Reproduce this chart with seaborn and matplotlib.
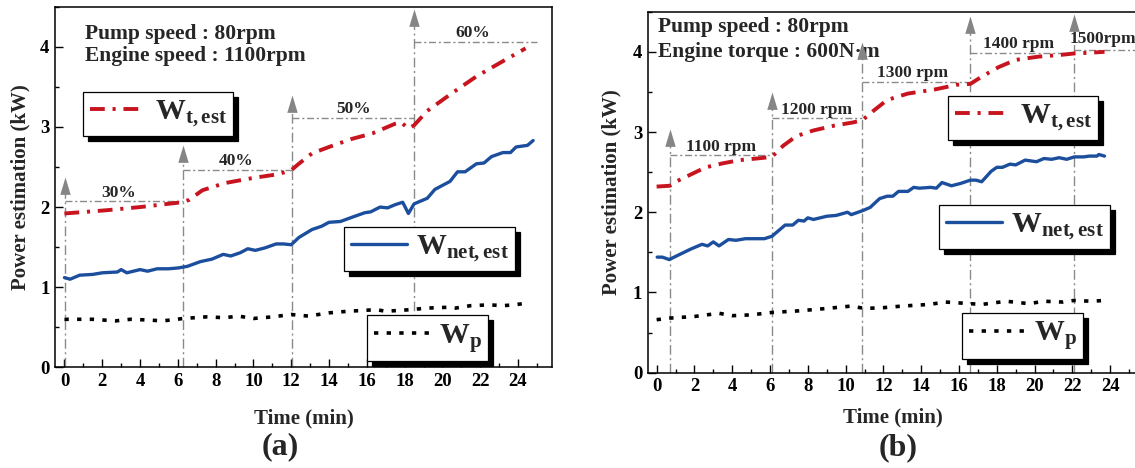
import matplotlib
matplotlib.use('Agg')
import matplotlib.pyplot as plt
import seaborn as sns
from matplotlib.legend import Legend
from matplotlib.ticker import MultipleLocator

# ---------------- data : panel (a) ----------------
a_wt_time = [0, 2.2, 4.0, 6.2, 6.6, 7.3, 8.5, 9.9, 11.3, 12.0, 12.4, 13.1, 14.0, 15.2,
             16.3, 17.5, 17.8, 18.2, 18.5, 19.2, 20.5, 21.8, 23.2, 24.4]
a_wt = [1.92, 1.96, 2.00, 2.06, 2.09, 2.21, 2.30, 2.36, 2.41, 2.46, 2.54, 2.67, 2.75, 2.85,
        2.92, 3.04, 3.06, 2.98, 3.02, 3.20, 3.42, 3.63, 3.82, 3.98]
a_wnet_time = [0, 0.3, 0.8, 1.5, 2.0, 2.8, 3.0, 3.3, 4.0, 4.4, 4.9, 5.5, 6.0, 6.5, 7.2,
               7.8, 8.4, 8.8, 9.3, 9.7, 10.1, 10.6, 11.2, 11.6, 12.0, 12.4, 13.1, 13.6,
               14.0, 14.6, 15.3, 15.9, 16.2, 16.7, 17.1, 17.5, 17.9, 18.2, 18.5, 19.2,
               19.6, 20.4, 20.8, 21.2, 21.8, 22.2, 22.6, 23.2, 23.6, 23.9, 24.5, 24.8]
a_wnet = [1.12, 1.10, 1.15, 1.16, 1.18, 1.19, 1.22, 1.18, 1.22, 1.20, 1.23, 1.23, 1.24,
          1.26, 1.32, 1.35, 1.41, 1.39, 1.43, 1.48, 1.46, 1.49, 1.54, 1.54, 1.53, 1.62,
          1.72, 1.76, 1.81, 1.82, 1.88, 1.93, 1.94, 2.00, 1.99, 2.03, 2.06, 1.92, 2.04,
          2.11, 2.22, 2.32, 2.44, 2.44, 2.54, 2.55, 2.63, 2.68, 2.68, 2.75, 2.77, 2.83]
a_wp_time = [0, 1.5, 2.7, 3.5, 4.5, 5.2, 6.3, 7.5, 8.5, 9.2, 10.0, 11.0, 12.0, 12.9, 14.0,
             15.0, 16.5, 17.0, 18.3, 19.2, 20.3, 20.7, 21.5, 22.5, 23.2, 23.8, 24.4]
a_wp = [0.60, 0.60, 0.58, 0.60, 0.59, 0.58, 0.61, 0.63, 0.62, 0.64, 0.61, 0.63, 0.66, 0.64,
        0.68, 0.70, 0.72, 0.70, 0.72, 0.74, 0.75, 0.74, 0.77, 0.78, 0.77, 0.78, 0.80]
a_step_start = [0.05, 6.25, 12.05, 18.5]
a_step_end = [6.25, 12.05, 18.5, 25.0]
a_step_level = [2.07, 2.46, 3.11, 4.06]
a_arrow_tip = [2.38, 2.78, 3.40, 4.47]
a_step_labels = ['30%', '40%', '50%', '60%']
a_label_x = [2.85, 9.1, 15.3, 21.6]
a_label_y = [2.18, 2.57, 3.22, 4.17]
a_info = ['Pump speed : 80rpm', 'Engine speed : 1100rpm']

# ---------------- data : panel (b) ----------------
b_wt_time = [0, 0.7, 1.1, 1.8, 2.6, 3.5, 4.4, 5.3, 6.1, 6.7, 7.4, 8.3, 9.4, 10.4, 10.9,
             11.5, 12.2, 13.3, 14.7, 15.9, 16.6, 17.2, 18.1, 19.0, 20.2, 21.3, 22.1, 23.0, 23.7]
b_wt = [2.32, 2.33, 2.39, 2.47, 2.56, 2.61, 2.65, 2.67, 2.69, 2.83, 2.95, 3.02, 3.08, 3.12,
        3.15, 3.27, 3.40, 3.48, 3.53, 3.59, 3.60, 3.69, 3.81, 3.90, 3.94, 3.96, 3.98, 3.99, 4.00]
b_wnet_time = [0.03, 0.3, 0.67, 1.1, 1.8, 2.4, 2.7, 3.0, 3.3, 3.8, 4.2, 4.7, 5.2, 5.7, 6.1,
               6.8, 7.2, 7.5, 7.8, 8.0, 8.3, 9.0, 9.5, 10.1, 10.3, 10.9, 11.3, 11.8, 12.2,
               12.5, 12.8, 13.3, 13.6, 13.9, 14.5, 14.8, 15.1, 15.6, 16.1, 16.6, 16.9, 17.2,
               17.7, 18.0, 18.3, 18.7, 19.0, 19.5, 20.1, 20.5, 20.9, 21.3, 21.7, 22.1, 22.6,
               22.9, 23.3, 23.4, 23.7]
b_wnet = [1.44, 1.44, 1.41, 1.46, 1.54, 1.60, 1.58, 1.63, 1.58, 1.66, 1.65, 1.67, 1.67,
          1.67, 1.70, 1.84, 1.84, 1.90, 1.89, 1.93, 1.91, 1.95, 1.96, 2.00, 1.97, 2.02,
          2.06, 2.17, 2.20, 2.20, 2.26, 2.26, 2.31, 2.30, 2.31, 2.30, 2.37, 2.33, 2.36,
          2.40, 2.40, 2.38, 2.51, 2.56, 2.56, 2.60, 2.59, 2.65, 2.63, 2.67, 2.66, 2.68,
          2.66, 2.69, 2.69, 2.70, 2.70, 2.72, 2.70]
b_wp_time = [0, 0.7, 2.0, 3.3, 4.0, 5.0, 6.1, 7.5, 9.0, 10.3, 11.0, 12.0, 13.0, 14.4, 15.3,
             16.6, 17.2, 18.5, 19.7, 20.5, 21.5, 22.1, 23.0, 23.7]
b_wp = [0.66, 0.68, 0.70, 0.74, 0.71, 0.72, 0.75, 0.77, 0.80, 0.83, 0.80, 0.81, 0.83, 0.85,
        0.88, 0.86, 0.85, 0.89, 0.86, 0.89, 0.88, 0.90, 0.89, 0.90]
b_step_start = [0.70, 6.09, 10.85, 16.57, 22.06]
b_step_end = [6.09, 10.85, 16.57, 22.06, 26.5]
b_step_level = [2.71, 3.17, 3.62, 3.99, 4.02]
b_arrow_tip = [3.04, 3.50, 4.12, 4.45, 4.47]
b_step_labels = ['1100 rpm', '1200 rpm', '1300 rpm', '1400 rpm', '1500rpm']
b_label_x = [3.4, 8.48, 13.53, 19.15, 23.6]
b_label_y = [2.81, 3.27, 3.73, 4.10, 4.16]
b_info = ['Pump speed : 80rpm', 'Engine torque : 600N\u00b7m']

legend_labels = [r'$\mathrm{W}_{\mathrm{t,est}}$',
                 r'$\mathrm{W}_{\mathrm{net,est}}$',
                 r'$\mathrm{W}_{\mathrm{p}}$']
x_major = list(range(0, 25, 2))
y_major = [0, 1, 2, 3, 4]

# ---------------- style ----------------
sns.set_theme(style='ticks')
plt.rcParams['font.family'] = ['Liberation Serif', 'DejaVu Serif']
plt.rcParams['font.weight'] = 'bold'
plt.rcParams['axes.labelweight'] = 'bold'
plt.rcParams['mathtext.fontset'] = 'custom'
plt.rcParams['mathtext.rm'] = 'Liberation Serif:bold'
plt.rcParams['mathtext.bf'] = 'Liberation Serif:bold'
plt.rcParams['mathtext.it'] = 'Liberation Serif:bold'

RED = '#C8141E'
BLUE = '#1C4E9E'
GUIDE = '#8A8A8A'
ARROW = '#858585'
head = [(0, 0), (-0.3, -1), (0.3, -1), (0, 0)]

fig = plt.figure(figsize=(11.35, 4.68), dpi=100)
fig.patch.set_facecolor('white')
ax_a = fig.add_axes([0.04846, 0.2150, 0.4379, 0.7707])
ax_b = fig.add_axes([0.5707, 0.2038, 0.4374, 0.7711])


def draw_panel(ax, wt_t, wt, wn_t, wn, wp_t, wp, s0, s1, lev, tip, labs, lx, ly,
               info, info_xy, leg_anchor, xlim):
    # guide lines
    for x0, x1, lv, tp in zip(s0, s1, lev, tip):
        ax.plot([x0, x0], [0, tp - 0.1], color=GUIDE, lw=1.0,
                linestyle=(0, (7, 2.5, 1.5, 2.5)), zorder=1)
        ax.plot([x0, x1], [lv, lv], color=GUIDE, lw=1.0,
                linestyle=(0, (5, 2, 1.5, 2)), zorder=1)
        ax.plot([x0], [tp], marker=head, markersize=25, color=ARROW,
                markeredgewidth=0, clip_on=False, zorder=6)
    for t, x, y in zip(labs, lx, ly):
        ax.text(x, y, t, ha='center', va='center', fontsize=12.5,
                fontweight='bold', zorder=3)

    sns.lineplot(x=wt_t, y=wt, ax=ax, color=RED, linewidth=2.8,
                 linestyle=(0, (3.8, 2.0, 0.8, 2.0)), legend=False, zorder=4)
    h_wt = ax.lines[-1]
    sns.lineplot(x=wn_t, y=wn, ax=ax, color=BLUE, linewidth=2.4,
                 legend=False, zorder=4)
    h_wn = ax.lines[-1]
    sns.lineplot(x=wp_t, y=wp, ax=ax, color='black', linewidth=2.6,
                 linestyle=(0, (1.2, 2.3)), legend=False, zorder=4)
    h_wp = ax.lines[-1]

    for h, lbl, anc in zip([h_wt, h_wn, h_wp], legend_labels, leg_anchor):
        leg = Legend(ax, [h], [lbl], loc='upper left', bbox_to_anchor=anc,
                     borderaxespad=0, frameon=True, fancybox=False, framealpha=1,
                     edgecolor='black', facecolor='white',
                     shadow={'ox': 3.6, 'oy': -3.6, 'facecolor': 'black',
                             'edgecolor': 'black', 'alpha': 1},
                     fontsize=21.5, handlelength=1.9, handletextpad=0.28,
                     borderpad=0.22)
        leg.get_frame().set_linewidth(0.9)
        leg.set_zorder(7)
        ax.add_artist(leg)

    for i, s in enumerate(info):
        ax.text(info_xy[0], info_xy[1][i], s, transform=ax.transAxes,
                ha='left', va='center', fontsize=15.5, fontweight='bold', zorder=3)

    ax.set_xlim(*xlim)
    ax.set_ylim(0, 4.5)
    ax.set_xticks(x_major, labels=[str(v) for v in x_major],
                  fontsize=13.5, fontweight='bold')
    ax.set_yticks(y_major, labels=[str(v) for v in y_major],
                  fontsize=13.5, fontweight='bold')
    ax.xaxis.set_minor_locator(MultipleLocator(1))
    ax.yaxis.set_minor_locator(MultipleLocator(0.5))
    ax.tick_params(which='both', direction='in', top=False, right=False,
                   width=1.0, colors='black')
    ax.tick_params(which='major', length=5.5, pad=4)
    ax.tick_params(which='minor', length=3)
    for sp in ax.spines.values():
        sp.set_visible(True)
        sp.set_color('black')
        sp.set_linewidth(1.1)
    ax.set_facecolor('white')
    ax.set_xlabel('Time (min)', fontsize=15, fontweight='bold', va='center')
    ax.set_ylabel('Power estimation (kW)', fontsize=15, fontweight='bold',
                  va='center')


draw_panel(ax_a, a_wt_time, a_wt, a_wnet_time, a_wnet, a_wp_time, a_wp,
           a_step_start, a_step_end, a_step_level, a_arrow_tip,
           a_step_labels, a_label_x, a_label_y, a_info, (0.060, [0.925, 0.862]),
           [(0.0563, 0.7635), (0.5815, 0.3892), (0.6278, 0.1453)], (-0.5, 25.8))
ax_a.xaxis.set_label_coords(0.501, -0.141)
ax_a.yaxis.set_label_coords(-0.0704, 0.5)

draw_panel(ax_b, b_wt_time, b_wt, b_wnet_time, b_wnet, b_wp_time, b_wp,
           b_step_start, b_step_end, b_step_level, b_arrow_tip,
           b_step_labels, b_label_x, b_label_y, b_info, (0.021, [0.958, 0.889]),
           [(0.6048, 0.7664), (0.5867, 0.4644), (0.633, 0.1657)], (-0.47, 25.8))
ax_b.xaxis.set_label_coords(0.493, -0.124)
ax_b.yaxis.set_label_coords(-0.073, 0.5)

fig.text(280 / 1135, 1 - 446.7 / 468, '(a)', ha='center', va='center',
         fontsize=23, fontweight='bold')
fig.text(898.6 / 1135, 1 - 448 / 468, '(b)', ha='center', va='center',
         fontsize=23, fontweight='bold')

fig.savefig('out.png', dpi=100, facecolor='white')
